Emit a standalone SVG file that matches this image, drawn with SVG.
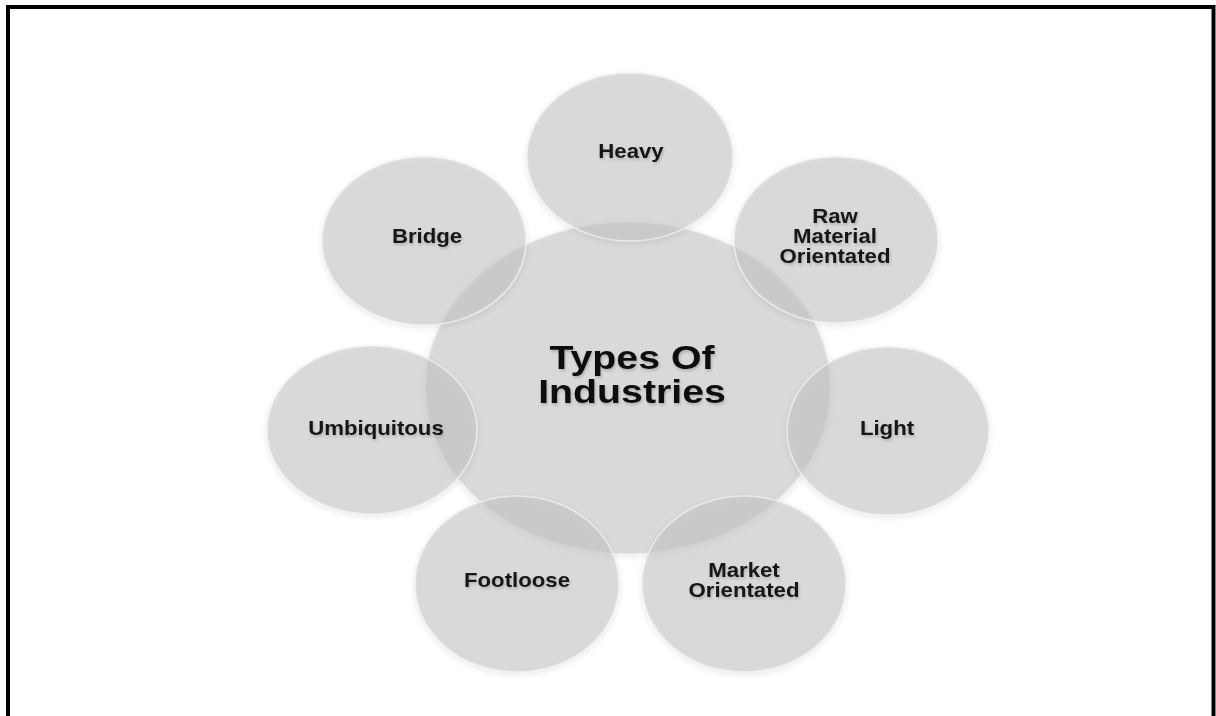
<svg xmlns="http://www.w3.org/2000/svg" width="1216" height="716" viewBox="0 0 1216 716">
<defs>
<filter id="halo" x="-20%" y="-20%" width="140%" height="140%">
<feGaussianBlur in="SourceAlpha" stdDeviation="3" result="b"/>
<feOffset in="b" dx="0" dy="2" result="o"/>
<feComponentTransfer in="o" result="s"><feFuncA type="linear" slope="0.14"/></feComponentTransfer>
<feMerge><feMergeNode in="s"/><feMergeNode in="SourceGraphic"/></feMerge>
</filter>
<filter id="tshadow" x="-10%" y="-30%" width="120%" height="160%">
<feGaussianBlur in="SourceAlpha" stdDeviation="1.5" result="b"/>
<feOffset in="b" dx="1" dy="2" result="o"/>
<feComponentTransfer in="o" result="s"><feFuncA type="linear" slope="0.2"/></feComponentTransfer>
<feMerge><feMergeNode in="s"/><feMergeNode in="SourceGraphic"/></feMerge>
</filter>
</defs>
<style>
.bub{fill:#c4c4c4;fill-opacity:0.56;stroke:#f0f0f0;stroke-width:1.5;stroke-opacity:0.8;filter:url(#halo)}
.lbl{font-family:"Liberation Sans",Arial,sans-serif;font-weight:bold;font-size:20px;fill:#151515;text-anchor:middle;filter:url(#tshadow)}
.title{font-family:"Liberation Sans",Arial,sans-serif;font-weight:bold;font-size:33px;fill:#111111;text-anchor:middle;filter:url(#tshadow)}
</style>
<rect width="1216" height="716" fill="#ffffff"/>
<path d="M8,716 V7 H1213.5 V716" fill="none" stroke="#000000" stroke-width="4"/>
<g id="center">
<ellipse class="bub" cx="628" cy="388" rx="203" ry="166"/>
<text class="title" transform="translate(632,369) scale(1.19,1)">Types Of</text>
<text class="title" transform="translate(632,403) scale(1.19,1)">Industries</text>
</g>
<g id="heavy">
<ellipse class="bub" cx="630" cy="157" rx="103" ry="84"/>
<text class="lbl" transform="translate(631,158) scale(1.11,1)">Heavy</text>
</g>
<g id="raw-material">
<ellipse class="bub" cx="836" cy="240" rx="102" ry="83"/>
<text class="lbl" transform="translate(835,223) scale(1.11,1)">Raw</text>
<text class="lbl" transform="translate(835,243) scale(1.11,1)">Material</text>
<text class="lbl" transform="translate(835,263) scale(1.11,1)">Orientated</text>
</g>
<g id="light">
<ellipse class="bub" cx="888" cy="431" rx="101" ry="84"/>
<text class="lbl" transform="translate(887,435) scale(1.11,1)">Light</text>
</g>
<g id="market">
<ellipse class="bub" cx="744" cy="584" rx="102" ry="88"/>
<text class="lbl" transform="translate(744,577) scale(1.11,1)">Market</text>
<text class="lbl" transform="translate(744,597) scale(1.11,1)">Orientated</text>
</g>
<g id="footloose">
<ellipse class="bub" cx="517" cy="584" rx="102" ry="88"/>
<text class="lbl" transform="translate(517,587) scale(1.11,1)">Footloose</text>
</g>
<g id="umbiquitous">
<ellipse class="bub" cx="372" cy="430" rx="105" ry="84"/>
<text class="lbl" transform="translate(376,435) scale(1.11,1)">Umbiquitous</text>
</g>
<g id="bridge">
<ellipse class="bub" cx="424" cy="241" rx="102" ry="84"/>
<text class="lbl" transform="translate(427,243) scale(1.11,1)">Bridge</text>
</g>
<g id="connectors"/>
</svg>
